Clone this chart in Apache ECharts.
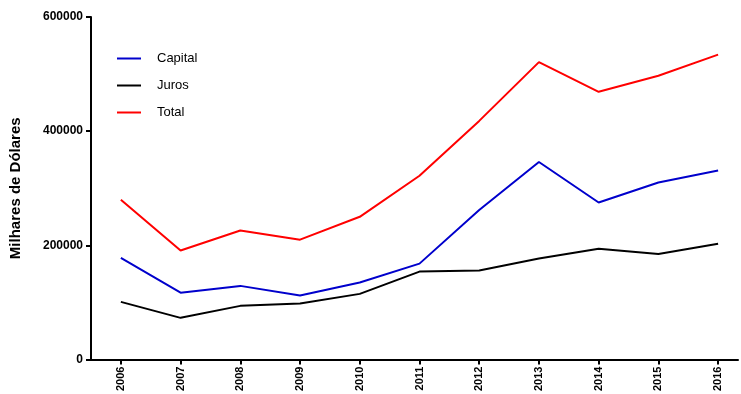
<!DOCTYPE html>
<html>
<head>
<meta charset="utf-8">
<script src="https://cdn.jsdelivr.net/npm/echarts@6/dist/echarts.min.js"></script>
<style>
  html, body { margin: 0; padding: 0; background: #fff; }
  #chart { width: 741px; height: 394px; }
</style>
</head>
<body>
<div id="chart"></div>
<script>
// anos e séries (milhares de dólares)
var years = [2006, 2007, 2008, 2009, 2010, 2011, 2012, 2013, 2014, 2015, 2016];
var capital = [178000, 117000, 129000, 112000, 135000, 168000, 262000, 346000, 275000, 310000, 331000];
var juros = [101000, 73000, 94000, 98000, 115000, 154000, 156000, 177000, 194000, 185000, 203000];
var total = [280000, 191000, 226000, 210000, 250000, 322000, 418000, 521000, 469000, 497000, 534000];

function pairs(vals) {
    return years.map(function (y, i) { return [y, vals[i]]; });
}

var chart = echarts.init(document.getElementById('chart'));
var font = 'Liberation Sans, Arial, sans-serif';

chart.setOption({
    animation: false,
    grid: { left: 88, right: 3, top: 17, bottom: 34 },
    legend: {
        left: 112, top: 47, orient: 'vertical', itemGap: 14,
        itemWidth: 24, itemHeight: 10,
        icon: 'path://M0,4 L24,4 L24,6 L0,6 Z',
        textStyle: { fontFamily: font, fontSize: 13, color: '#000', padding: [0, 0, 0, 11] },
        data: ['Capital', 'Juros', 'Total']
    },
    xAxis: {
        type: 'value', min: 2005.5, max: 2016.333,
        splitLine: { show: false },
        axisLine: { lineStyle: { color: '#000', width: 2 } },
        axisTick: { show: true, length: 5, customValues: years, lineStyle: { color: '#000', width: 2 } },
        axisLabel: {
            customValues: years, rotate: 90, color: '#000', fontWeight: 'bold',
            fontFamily: font, fontSize: 11, margin: 7,
            formatter: function (v) { return String(Math.round(v)); }
        }
    },
    yAxis: {
        type: 'value', min: 0, max: 600000, interval: 200000,
        name: 'Milhares de Dólares', nameLocation: 'middle', nameGap: 68, nameRotate: 90,
        nameTextStyle: { fontFamily: font, fontWeight: 'bold', fontSize: 15, color: '#000' },
        splitLine: { show: false },
        axisLine: { show: true, lineStyle: { color: '#000', width: 2 } },
        axisTick: { show: true, length: 5, lineStyle: { color: '#000', width: 2 } },
        axisLabel: {
            color: '#000', fontWeight: 'bold', fontFamily: font, fontSize: 12, margin: 8,
            formatter: function (v) { return String(v); }
        }
    },
    series: [
        { name: 'Capital', type: 'line', data: pairs(capital), showSymbol: false,
          lineStyle: { color: '#0000cc', width: 2 }, itemStyle: { color: '#0000cc' } },
        { name: 'Juros', type: 'line', data: pairs(juros), showSymbol: false,
          lineStyle: { color: '#000', width: 2 }, itemStyle: { color: '#000' } },
        { name: 'Total', type: 'line', data: pairs(total), showSymbol: false,
          lineStyle: { color: '#ff0000', width: 2 }, itemStyle: { color: '#ff0000' } }
    ]
});
</script>
</body>
</html>
